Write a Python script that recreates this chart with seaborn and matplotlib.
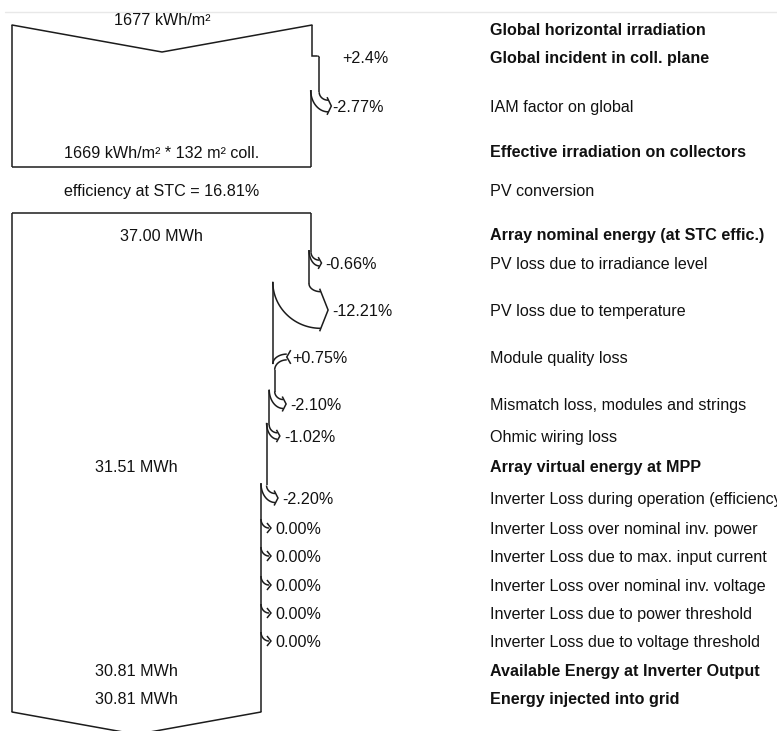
import numpy as np
import matplotlib
matplotlib.use("Agg")
import matplotlib.pyplot as plt
import seaborn as sns

# values
ghi_text = "1677 kWh/m²"
irr_steps = [2.4, -2.77]
irr_step_text = ["+2.4%", "-2.77%"]
eff_irr_text = "1669 kWh/m² * 132 m² coll."
stc_text = "efficiency at STC = 16.81%"

energy_steps = [-0.66, -12.21, 0.75, -2.10, -1.02, -2.20, 0.00, 0.00, 0.00, 0.00, 0.00]
energy_text = ["37.00 MWh", "31.51 MWh", "30.81 MWh", "30.81 MWh"]

right_labels = [
    "Global horizontal irradiation",
    "Global incident in coll. plane",
    "IAM factor on global",
    "Effective irradiation on collectors",
    "PV conversion",
    "Array nominal energy (at STC effic.)",
    "PV loss due to irradiance level",
    "PV loss due to temperature",
    "Module quality loss",
    "Mismatch loss, modules and strings",
    "Ohmic wiring loss",
    "Array virtual energy at MPP",
    "Inverter Loss during operation (efficiency)",
    "Inverter Loss over nominal inv. power",
    "Inverter Loss due to max. input current",
    "Inverter Loss over nominal inv. voltage",
    "Inverter Loss due to power threshold",
    "Inverter Loss due to voltage threshold",
    "Available Energy at Inverter Output",
    "Energy injected into grid",
]
bold_rows = [0, 1, 3, 5, 11, 18, 19]

# layout (pixel rows of the diagram)
rows = [29, 57, 106, 151, 190, 234, 263, 310, 357, 404, 436, 466,
        498, 528, 556, 585, 613, 641, 670, 698]
irr_rows = [1, 2]
energy_rows = [6, 7, 8, 9, 10, 12, 13, 14, 15, 16, 17]

INK = "#1c1c1c"
LW = 1.1
FS = 11.6
X0 = 12
W1, W2 = 300, 299

sns.set_theme(style="white")
plt.rcParams["font.family"] = ["Liberation Sans", "DejaVu Sans"]

fig = plt.figure(figsize=(7.77, 7.31), dpi=100)
ax = fig.add_axes([0, 0, 1, 1])
ax.set_xlim(0, 777)
ax.set_ylim(731, 0)
ax.axis("off")

t = np.linspace(0, np.pi / 2, 40)


def line(xs, ys):
    ax.plot(xs, ys, color=INK, lw=LW, solid_capstyle="butt", solid_joinstyle="miter")


def loss_arrow(x_o, x_i, yl):
    w = x_o - x_i
    x_e = x_o + 8 + 0.1 * w
    tip = x_e + 2 + 0.15 * w
    if w < 0.5:
        y_s = yl - 9
        line(x_e - (x_e - x_o) * np.cos(t), y_s + 9 * np.sin(t))
        line([x_e - 2, tip, x_e - 2], [yl - 5, yl, yl + 5])
        return y_s, y_s, tip
    band = 0.9 * w + 4
    rv = 8
    y_os = yl - band / 2 - rv
    y_oe = yl - band / 2
    y_is = y_os - 2
    y_ie = yl + band / 2
    line(x_e - (x_e - x_o) * np.cos(t), y_os + rv * np.sin(t))
    line(x_e - (x_e - x_i) * np.cos(t), y_is + (y_ie - y_is) * np.sin(t))
    line([x_e - 1, tip, x_e - 1], [y_oe - 3, yl, y_ie + 3])
    return y_os, y_is, tip


def gain_arrow(x_b, x_a, yl):
    g = x_a - x_b
    band = 0.9 * g + 4
    x_c = x_b + 14
    rv = 10
    y_ut = yl - band / 2
    y_lt = yl + band / 2
    line(x_c - (x_c - x_b) * np.sin(t), y_ut + rv - rv * np.cos(t))
    line(x_c - (x_c - x_a) * np.sin(t), y_lt + rv - rv * np.cos(t))
    line([x_c + 4, x_c, x_c + 4], [y_ut - 4, yl, y_lt + 4])
    return y_ut + rv, y_lt + rv, x_c + 1


def txt(x, y, s, **kw):
    ax.text(x, y + 1.5, s, fontsize=FS, color="#111111", va="center", **kw)


# faint rule at top
ax.plot([5, 777], [12, 12], color="#e8e8e8", lw=1)

# irradiation box
x_top = X0 + W1
ax.plot([X0, (X0 + x_top) / 2, x_top], [25, 52, 25], color=INK, lw=LW)
line([X0, X0], [25, 167])
txt((X0 + x_top) / 2, 19, ghi_text, ha="center")

frac = 1.0
x_cur, y_cur = x_top, 25
for v, s, ri in zip(irr_steps, irr_step_text, irr_rows):
    yl = rows[ri]
    frac *= 1 + v / 100
    x_new = X0 + W1 * frac
    if v > 0:
        line([x_cur, x_cur, x_new - 2], [y_cur, yl - 1, yl - 1])
        line(x_new - 2 + 2 * np.sin(t), yl - 1 + 2 - 2 * np.cos(t))
        y_cur = yl + 1
        lx = x_new + 23
    else:
        y_end, y_start, tip = loss_arrow(x_cur, x_new, yl)
        line([x_cur, x_cur], [y_cur, y_end])
        y_cur = y_start
        lx = tip + 1
    txt(lx, yl, s, ha="left")
    x_cur = x_new
line([x_cur, x_cur], [y_cur, 167])
line([X0, x_cur], [167, 167])
txt((X0 + x_cur) / 2, rows[3] + 1, eff_irr_text, ha="center")
txt((X0 + x_cur) / 2, rows[4], stc_text, ha="center")

# energy box
x_cur = X0 + W2
y_cur = 213
line([X0, x_cur], [213, 213])
line([X0, X0], [213, 712])
txt((X0 + x_cur) / 2, rows[5] + 1, energy_text[0], ha="center")

frac = 1.0
for v, ri in zip(energy_steps, energy_rows):
    yl = rows[ri]
    frac *= 1 + v / 100
    x_new = X0 + W2 * frac
    if v > 0:
        y_end, y_start, lx = gain_arrow(x_cur, x_new, yl)
    else:
        y_end, y_start, lx = loss_arrow(x_cur, x_new, yl)
    line([x_cur, x_cur], [y_cur, y_end])
    x_cur, y_cur = x_new, y_start
    s = "0.00%" if v == 0 else f"{v:+.2f}%"
    txt(lx + 4, yl, s, ha="left")
    if ri == 10:
        txt((X0 + x_cur) / 2 - 3, rows[11], energy_text[1], ha="center")
line([x_cur, x_cur], [y_cur, 712])
depth = 0.18 * (x_cur - X0) / 2
ax.plot([X0, (X0 + x_cur) / 2, x_cur], [712, 712 + depth, 712], color=INK, lw=LW)
txt((X0 + x_cur) / 2, rows[18], energy_text[2], ha="center")
txt((X0 + x_cur) / 2, rows[19], energy_text[3], ha="center")

# right-hand captions
for i, (lab, y) in enumerate(zip(right_labels, rows)):
    txt(490, y, lab, ha="left", fontweight="bold" if i in bold_rows else "normal")

fig.savefig("out.png", dpi=100)
